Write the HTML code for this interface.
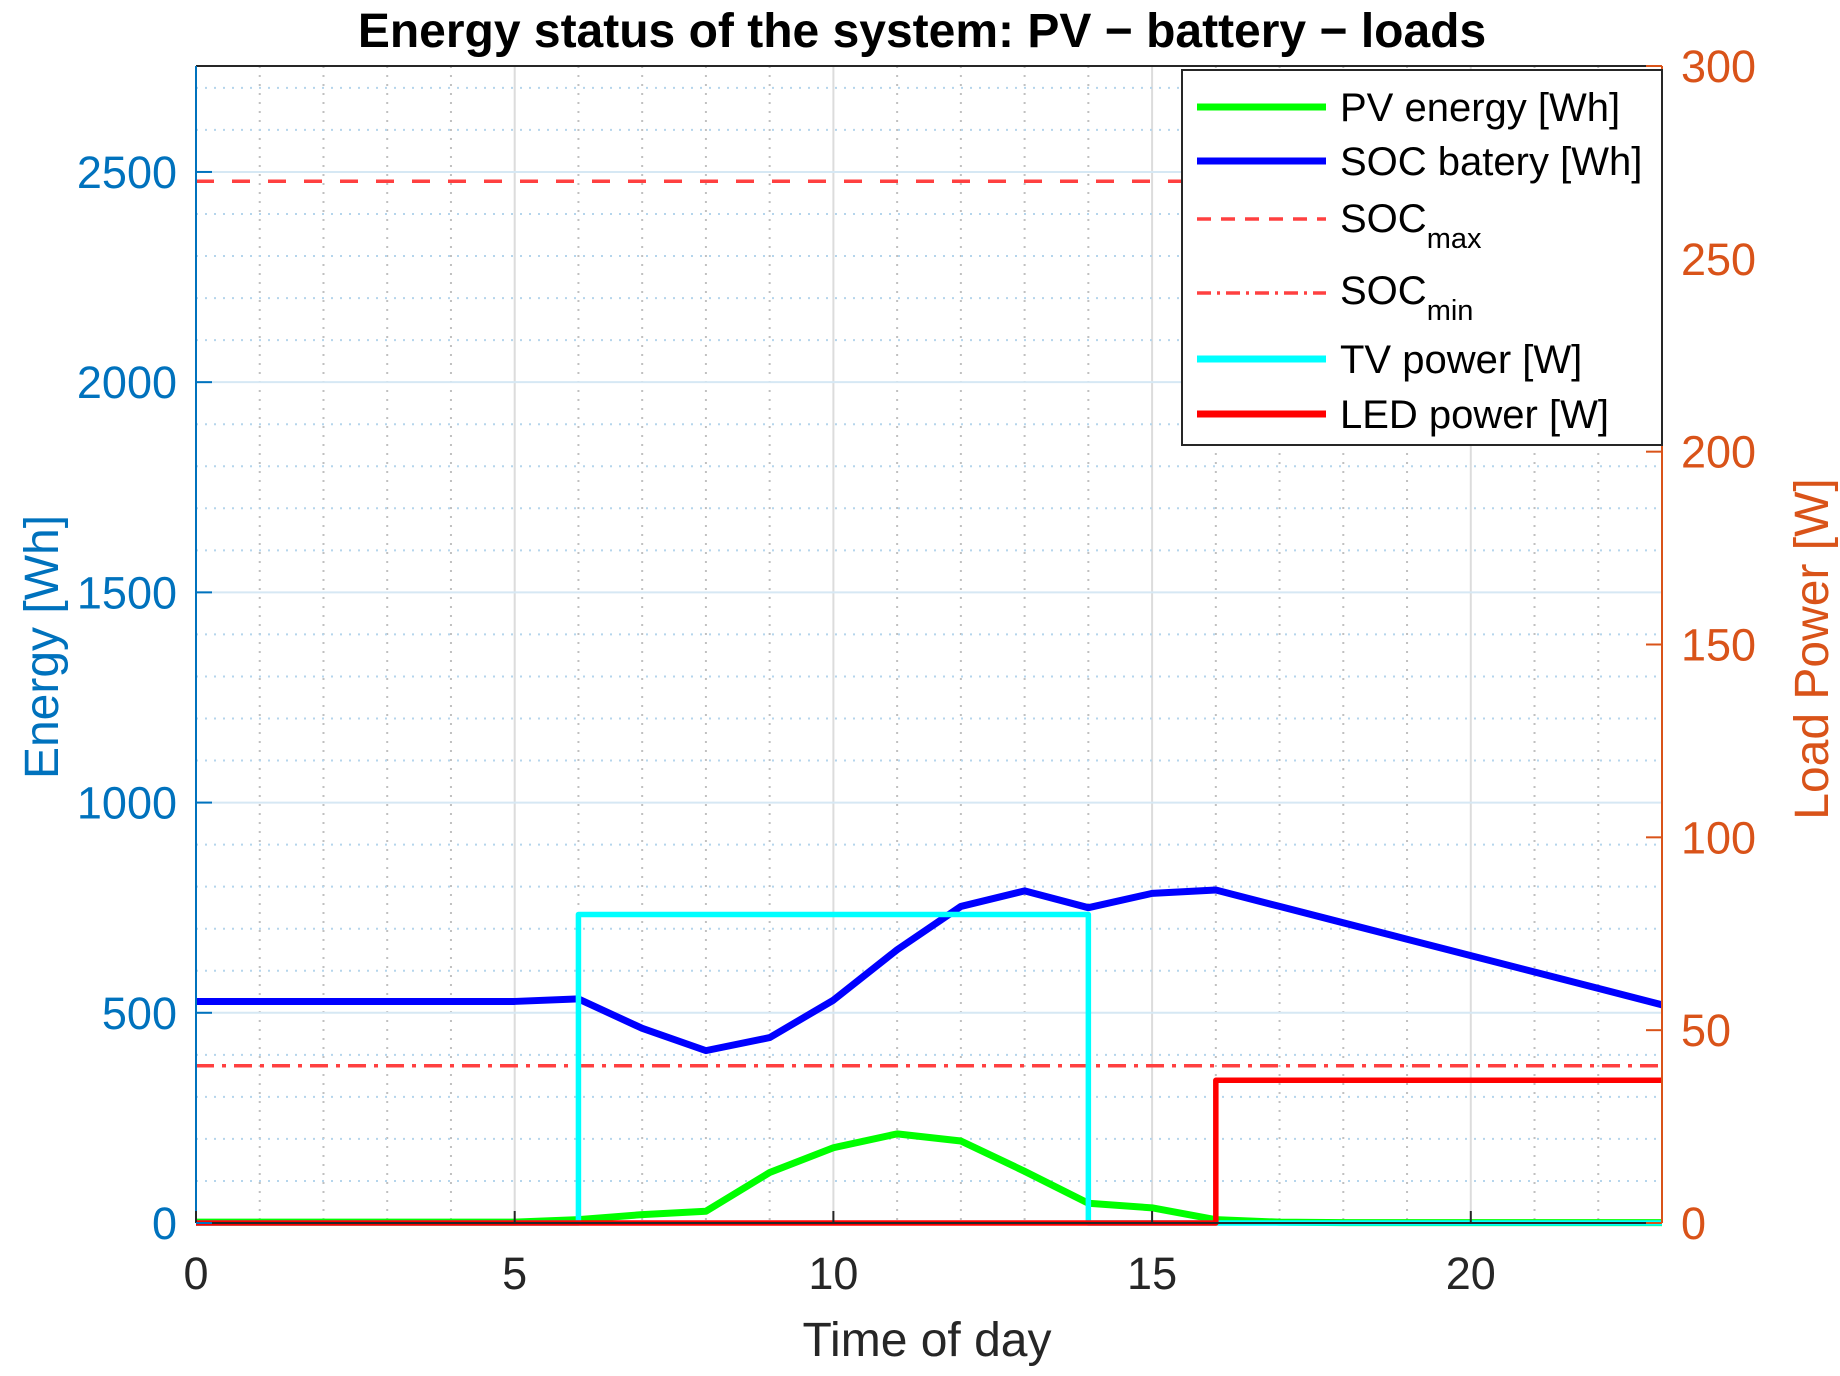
<!DOCTYPE html>
<html><head><meta charset="utf-8"><style>
html,body{margin:0;padding:0;background:#fff;}
svg{display:block;font-family:"Liberation Sans",Arial,sans-serif;}
</style></head><body>
<svg id="chart" width="1840" height="1376" viewBox="0 0 1840 1376" xmlns="http://www.w3.org/2000/svg">
<g id="grid"></g>
<g id="series"></g>
<g id="axes"></g>
<text x="922" y="47" text-anchor="middle" font-size="48" font-weight="bold" fill="#000">Energy status of the system: PV − battery − loads</text>
<text transform="translate(58,647) rotate(-90)" text-anchor="middle" font-size="48" fill="#0072BD">Energy [Wh]</text>
<text transform="translate(1828,649) rotate(-90)" text-anchor="middle" font-size="48" fill="#D95319">Load Power [W]</text>
<text x="927" y="1356" text-anchor="middle" font-size="48" fill="#262626">Time of day</text>
<g id="legend">
<rect x="1182" y="70" width="480" height="375" fill="#fff" stroke="#262626" stroke-width="2"/>
<line x1="1197" y1="107" x2="1326" y2="107" stroke="#00ff00" stroke-width="7"/>
<text x="1340" y="121" font-size="40" fill="#000">PV energy [Wh]</text>
<line x1="1197" y1="161" x2="1326" y2="161" stroke="#0000ff" stroke-width="7"/>
<text x="1340" y="175" font-size="40" fill="#000">SOC batery [Wh]</text>
<line x1="1197" y1="219" x2="1326" y2="219" stroke="#ff4040" stroke-width="3.5" stroke-dasharray="14,10"/>
<text x="1340" y="232" font-size="40" fill="#000">SOC<tspan font-size="29" dy="16">max</tspan></text>
<line x1="1197" y1="293" x2="1326" y2="293" stroke="#ff4040" stroke-width="3.5" stroke-dasharray="14,6,3,6"/>
<text x="1340" y="304" font-size="40" fill="#000">SOC<tspan font-size="29" dy="16">min</tspan></text>
<line x1="1197" y1="359" x2="1326" y2="359" stroke="#00ffff" stroke-width="7"/>
<text x="1340" y="373" font-size="40" fill="#000">TV power [W]</text>
<line x1="1197" y1="414" x2="1326" y2="414" stroke="#ff0000" stroke-width="7"/>
<text x="1340" y="428" font-size="40" fill="#000">LED power [W]</text>
</g>
</svg>
<script>
const hours = [0,1,2,3,4,5,6,7,8,9,10,11,12,13,14,15,16,17,18,19,20,21,22,23];
const socValues = [527,527,527,527,527,527,533,463,410,441,530,650,753,790,750,784,792,753,714,675,636,597,558,519];
const pvValues = [2,2,2,2,2,2,8,20,28,120,179,212,195,123,47,36,8,2,1,1,1,1,1,1];
const socMax = 2478;
const socMin = 374;
const tvPower = [0,0,0,0,0,0,80,80,80,80,80,80,80,80,0,0,0,0,0,0,0,0,0,0];
const ledPower = [0,0,0,0,0,0,0,0,0,0,0,0,0,0,0,0,37,37,37,37,37,37,37,37];
const xTicks = [0,5,10,15,20];
const leftTicks = [0,500,1000,1500,2000,2500];
const rightTicks = [0,50,100,150,200,250,300];

const L=196,R=1662,T=66,B=1223;
const xMax=23, yMax=2752, y2Max=300;
const sx=v=>L+(R-L)*v/xMax;
const sy=v=>B-(B-T)*v/yMax;
const sy2=v=>B-(B-T)*v/y2Max;
const NS="http://www.w3.org/2000/svg";
function mk(tag,attrs,parent){const e=document.createElementNS(NS,tag);for(const k in attrs)e.setAttribute(k,attrs[k]);parent.appendChild(e);return e;}
const grid=document.getElementById('grid'),series=document.getElementById('series'),axes=document.getElementById('axes');

for(let h=1;h<xMax;h++){
  const major=h%5===0;
  const g=mk('line',{x1:sx(h),x2:sx(h),y1:T,y2:B,stroke:major?'#dcdcdc':'#c0c0c0','stroke-width':2,'stroke-dasharray':major?'none':'2,7'},grid);
  
  
}
for(let v=100;v<yMax;v+=100){
  const major=v%500===0;
  const g=mk('line',{x1:L,x2:R,y1:sy(v),y2:sy(v),stroke:major?'#d6e8f4':'#b5d5ec','stroke-width':2,'stroke-dasharray':major?'none':'2,7'},grid);
  
  
}

function polyline(xs,ys,fy,color,w,dash,name){
  const pts=xs.map((x,i)=>sx(x)+','+fy(ys[i])).join(' ');
  const p=mk('polyline',{points:pts,fill:'none',stroke:color,'stroke-width':w,'stroke-dasharray':dash||'none','stroke-linejoin':'round'},series);
  
  
}
function stairs(xs,ys){const ox=[],oy=[];for(let i=0;i<xs.length;i++){if(i>0){ox.push(xs[i]);oy.push(ys[i-1]);}ox.push(xs[i]);oy.push(ys[i]);}return [ox,oy];}

const mx=mk('line',{x1:L,x2:R,y1:sy(socMax),y2:sy(socMax),stroke:'#ff4040','stroke-width':3.5,'stroke-dasharray':'18,18'},series);


const mn=mk('line',{x1:L,x2:R,y1:sy(socMin),y2:sy(socMin),stroke:'#ff4040','stroke-width':3.5,'stroke-dasharray':'18,8,4,8'},series);


polyline(hours,pvValues,sy,'#00ff00',7,null,'pv-energy-line');
polyline(hours,socValues,sy,'#0000ff',7,null,'soc-battery-line');
let st=stairs(hours,tvPower);
polyline(st[0],st[1],sy2,'#00ffff',5.5,null,'tv-power-line');
st=stairs(hours,ledPower);
polyline(st[0],st[1],sy2,'#ff0000',5.5,null,'led-power-line');

let a=mk('line',{x1:L,x2:R,y1:T,y2:T,stroke:'#262626','stroke-width':2},axes);

a=mk('line',{x1:L,x2:R,y1:B,y2:B,stroke:'#262626','stroke-width':2},axes);

a=mk('line',{x1:L,x2:L,y1:T,y2:B,stroke:'#0072BD','stroke-width':2},axes);

a=mk('line',{x1:R,x2:R,y1:T,y2:B,stroke:'#D95319','stroke-width':2},axes);


xTicks.forEach(v=>{
  const t=mk('line',{x1:sx(v),x2:sx(v),y1:B,y2:B-12,stroke:'#262626','stroke-width':2},axes);
  
  const tx=mk('text',{x:sx(v),y:B+66,'text-anchor':'middle','font-size':45,fill:'#262626'},axes);
  tx.textContent=v;
  
});
leftTicks.forEach(v=>{
  const t=mk('line',{x1:L,x2:L+16,y1:sy(v),y2:sy(v),stroke:'#0072BD','stroke-width':2},axes);
  
  const tx=mk('text',{x:L-19,y:sy(v)+16,'text-anchor':'end','font-size':45,fill:'#0072BD'},axes);
  tx.textContent=v;
  
});
rightTicks.forEach(v=>{
  const t=mk('line',{x1:R,x2:R-16,y1:sy2(v),y2:sy2(v),stroke:'#D95319','stroke-width':2},axes);
  
  const tx=mk('text',{x:R+19,y:sy2(v)+16,'text-anchor':'start','font-size':45,fill:'#D95319'},axes);
  tx.textContent=v;
  
});
</script>
</body></html>
